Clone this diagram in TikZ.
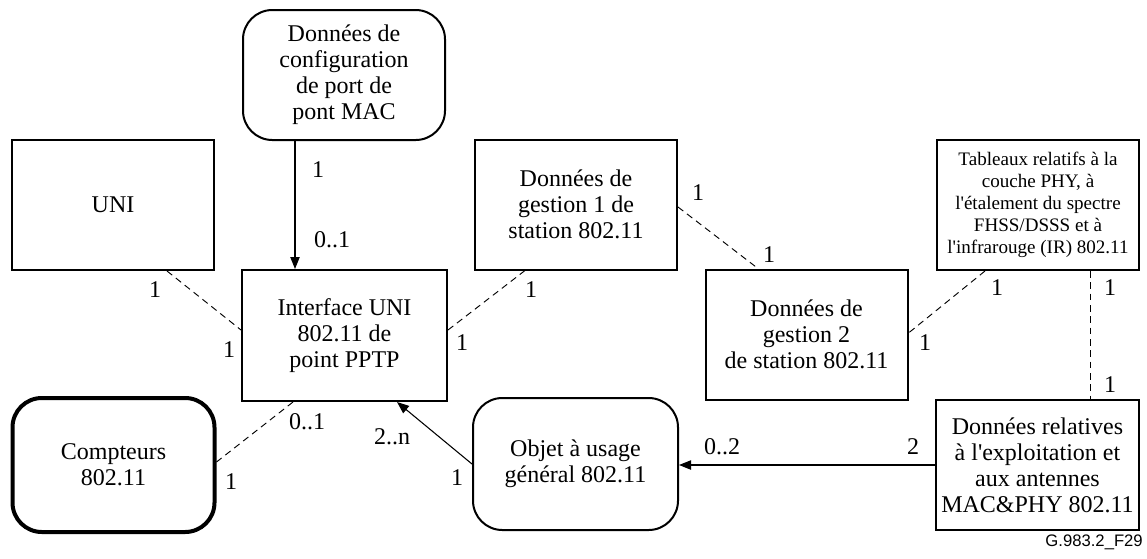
\documentclass[tikz,border=0pt]{standalone}
\usepackage{fontspec}
\setmainfont{Liberation Serif}
\newfontfamily\figsans{Liberation Sans}
\usetikzlibrary{calc,arrows.meta}
\newcommand\apos{\textquotesingle}
\begin{document}
\begin{tikzpicture}[x=0.75pt,y=-0.75pt,
  box/.style={draw,line width=1.5pt,minimum width=151.5pt,minimum height=97.5pt,
    align=center,inner sep=2pt,font=\fontsize{18}{19.5}\selectfont},
  rbox/.style={box,rounded corners=22pt},
  smallbox/.style={box,font=\fontsize{14.3}{16.5}\selectfont},
  assoc/.style={line width=0.7pt,dash pattern=on 5pt off 3.5pt},
  link/.style={line width=0.8pt,-{Triangle[length=9pt,width=7pt]}},
  mult/.style={font=\fontsize{18}{19.5}\selectfont,inner sep=0pt}]
\useasboundingbox (0,0) rectangle (1147,558);

% classes
\node[rbox] (cfg) at (344,75) {Données de\\configuration\\de port de\\pont MAC};
\node[box] (uni) at (113,205) {UNI};
\node[box,minimum width=153.75pt,minimum height=98.25pt] (iface) at (344.5,335.5) {Interface UNI\\802.11 de\\point PPTP};
\node[rbox,line width=3pt,minimum height=100.5pt] (cpt) at (113.5,465) {Compteurs\\802.11};
\node[box] (g1) at (576,204.5) {Données de\\gestion 1 de\\station 802.11};
\node[box] (g2) at (806.5,334.5) {Données de\\gestion 2\\de station 802.11};
\node[smallbox] (tab) at (1038,205) {Tableaux relatifs à la\\couche PHY, à\\l\apos étalement du spectre\\FHSS/DSSS et à\\l\apos infrarouge (IR) 802.11};
\node[box,minimum width=152.25pt] (rel) at (1037.5,465) {Données relatives\\à l\apos exploitation et\\aux antennes\\MAC\&PHY 802.11};
\node[rbox,minimum width=153.75pt,minimum height=99pt] (obj) at (575.5,464) {Objet à usage\\général 802.11};

% associations
\draw[link] ($(cfg.south)+(-49,0)$) -- ($(iface.north)+(-49.5,0)$);
\node[mult] (m1) at (318,170) {1};
\node[mult] (m2) at (332,240) {0..1};

\draw[assoc] ($(uni.south)+(54,0)$) -- ($(iface.west)+(0,-5.5)$);
\node[mult] (m3) at (155,290) {1};
\node[mult] (m4) at (229,350) {1};

\draw[assoc] ($(iface.east)+(0,-5.5)$) -- ($(g1.south)+(-51,0)$);
\node[mult] (m5) at (462,343) {1};
\node[mult] (m6) at (531,290) {1};

\draw[assoc] ($(g1.east)+(0,2.5)$) -- ($(g2.north)+(-48.5,0)$);
\node[mult] (m7) at (698,193) {1};
\node[mult] (m8) at (769,255) {1};

\draw[assoc] ($(tab.south)+(-53,0)$) -- ($(g2.east)+(0,-1.5)$);
\node[mult] (m9) at (997,288) {1};
\node[mult] (m10) at (925,343) {1};

\draw[assoc] ($(tab.south)+(52,0)$) -- ($(rel.north)+(52.5,0)$);
\node[mult] (m11) at (1110,288) {1};
\node[mult] (m12) at (1110,385) {1};

\draw[assoc] ($(iface.south)+(-51.5,0)$) -- ($(cpt.east)+(0,-3)$);
\node[mult] (m13) at (307,422) {0..1};
\node[mult] (m14) at (231,482) {1};

\draw[link] (obj.west) -- ($(iface.south)+(52.5,0)$);
\node[mult] (m15) at (392,437) {2..n};
\node[mult] (m16) at (457,478) {1};

\draw[link] (rel.west) -- (rel.west -| obj.east);
\node[mult] (m17) at (722,447) {0..2};
\node[mult] (m18) at (913,447) {2};

\node[anchor=base east,inner sep=0pt,font=\figsans\fontsize{12.5}{14}\selectfont] (ref) at (1143,546) {G.983.2\_F29};
\end{tikzpicture}
\end{document}
